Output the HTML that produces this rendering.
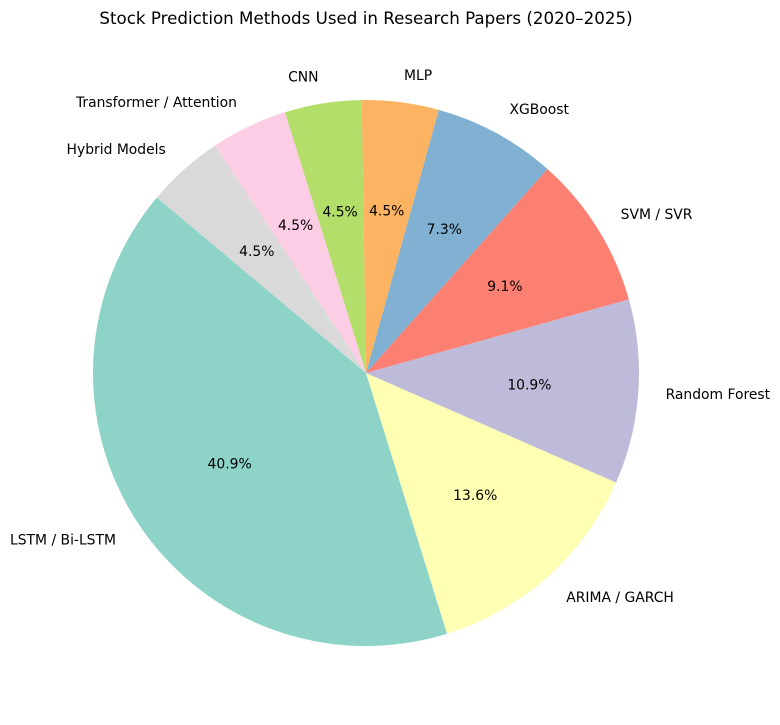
<!DOCTYPE html>
<html><head><meta charset="utf-8"><style>
body{margin:0;background:#fff;}
svg{display:block;font-family:"DejaVu Sans","Liberation Sans",sans-serif;}
</style></head><body>
<svg id="chart" width="780" height="725" viewBox="0 0 780 725">
<text x="366" y="24" text-anchor="middle" font-size="16.7" fill="#000">Stock Prediction Methods Used in Research Papers (2020–2025)</text>
<g id="slices"></g><g id="labels"></g>
</svg>
<script>
const categories=["LSTM / Bi-LSTM","ARIMA / GARCH","Random Forest","SVM / SVR","XGBoost","MLP","CNN","Transformer / Attention","Hybrid Models"];
const values=[45,15,12,10,8,5,5,5,5];
const colors=["#8dd3c7","#ffffb3","#bebada","#fb8072","#80b1d3","#fdb462","#b3de69","#fccde5","#d9d9d9"];
const cx=366,cy=373,R=273,startAngle=140;
const ns="http://www.w3.org/2000/svg";
const total=values.reduce((a,b)=>a+b,0);
const gs=document.getElementById('slices'),gl=document.getElementById('labels');
function pt(a,r){const t=a*Math.PI/180;return [cx+r*Math.cos(t),cy-r*Math.sin(t)];}
let a0=startAngle;
values.forEach((v,i)=>{
  const sweep=v/total*360,a1=a0+sweep;
  const p0=pt(a0,R),p1=pt(a1,R);
  const path=document.createElementNS(ns,'path');
  path.setAttribute('d',`M${cx},${cy} L${p0[0]},${p0[1]} A${R},${R} 0 ${sweep>180?1:0} 0 ${p1[0]},${p1[1]} Z`);
  path.setAttribute('fill',colors[i]);
  
  
  gs.appendChild(path);
  const mid=(a0+a1)/2;
  const pp=pt(mid,R*0.6);
  const t=document.createElementNS(ns,'text');
  t.setAttribute('x',pp[0]);t.setAttribute('y',pp[1]+5);
  t.setAttribute('text-anchor','middle');t.setAttribute('font-size','13.9');
  t.textContent=(v/total*100).toFixed(1)+'%';
  
  
  gl.appendChild(t);
  const lp=pt(mid,R*1.1);
  const l=document.createElementNS(ns,'text');
  l.setAttribute('x',lp[0]);l.setAttribute('y',lp[1]+5);
  l.setAttribute('text-anchor',lp[0]>cx?'start':'end');l.setAttribute('font-size','13.9');
  l.textContent=categories[i];
  
  
  gl.appendChild(l);
  a0=a1;
});
</script>
</body></html>
